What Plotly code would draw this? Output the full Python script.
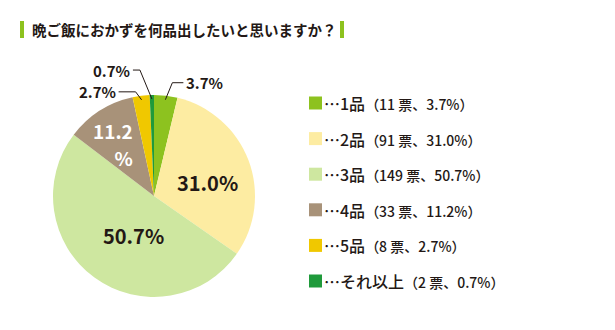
import math
import plotly.graph_objects as go

# Survey answers: how many dishes people want to serve at dinner
categories = ["1品", "2品", "3品", "4品", "5品", "それ以上"]
votes = [11, 91, 149, 33, 8, 2]
colors = ["#8dc21f", "#fdeca2", "#cee7a0", "#a89279", "#f0c800", "#1f9a3b"]
title_text = "晩ご飯におかずを何品出したいと思いますか？"

W, H = 615, 330
CX, CY, R = 154, 196, 101          # pie centre / radius in pixels
TEXT = "#231815"
FONT = "Noto Sans CJK JP"

total = sum(votes)
pcts = [f"{100 * v / total:.1f}%" for v in votes]


def px(x):
    return x / W


def py(y):
    return 1 - y / H


# mid angle of each slice, measured clockwise from 12 o'clock
mids = []
acc = 0
for v in votes:
    mids.append((acc + v / 2) / total * 360)
    acc += v


def polar(angle_deg, frac):
    a = math.radians(angle_deg)
    return CX + frac * R * math.sin(a), CY - frac * R * math.cos(a)


fig = go.Figure(
    go.Pie(
        values=votes,
        labels=categories,
        marker=dict(colors=colors, line=dict(width=0)),
        sort=False,
        direction="clockwise",
        rotation=0,
        textinfo="none",
        hoverinfo="skip",
        showlegend=False,
        domain=dict(x=[px(CX - R), px(CX + R)], y=[py(CY + R), py(CY - R)]),
    )
)

shapes = []
annotations = []


def label(text, x, y, size, color=TEXT, weight=700, xanchor="center", align="center"):
    annotations.append(dict(text=text, xref="paper", yref="paper", x=px(x), y=py(y),
                            xanchor=xanchor, yanchor="middle", showarrow=False, align=align,
                            font=dict(family=FONT, size=size, color=color, weight=weight)))


# title with green bars either side
for bx in (20, 340):
    shapes.append(dict(type="rect", xref="paper", yref="paper", x0=px(bx), x1=px(bx + 4),
                       y0=py(38), y1=py(21), fillcolor="#8dc21f", line=dict(width=0)))
label(title_text, 30, 29.5, 14.5, weight=700, xanchor="left")

# percentage labels inside the larger slices
inside = {
    1: dict(frac=0.55, dang=7),
    2: dict(frac=0.44, dang=-9),
}
for i, st in inside.items():
    x, y = polar(mids[i] + st["dang"], st["frac"])
    label(pcts[i], x, y, 20)

# the 4品 label wraps onto two lines: the base size sets the line step,
# the spans set the glyph size
x, y = polar(mids[3] - 2.5, 0.64)
big = "<span style='font-size:19px'>{}</span>"
label(big.format(pcts[3][:-1]) + "<br>" + big.format("%"), x - 4, y + 1, 21,
      color="#ffffff", align="right")

# small slices: label outside with an elbow leader line
outside = {
    0: dict(elbow=(7, -17), run=11),
    4: dict(elbow=(-6, -8), run=-17),
    5: dict(elbow=(-12, -29), run=-7),
}
for i, st in outside.items():
    x0, y0 = polar(mids[i], 0.96)
    x1, y1 = x0 + st["elbow"][0], y0 + st["elbow"][1]
    x2 = x1 + st["run"]
    shapes.append(dict(type="path", xref="paper", yref="paper",
                       path=f"M {px(x0)} {py(y0)} L {px(x1)} {py(y1)} L {px(x2)} {py(y1)}",
                       line=dict(color=TEXT, width=1)))
    label(pcts[i], x2 + (1 if st["run"] > 0 else -1), y1, 15,
          xanchor="left" if st["run"] > 0 else "right")

# legend built from the same lists
LX, LY, STEP, SQ = 309, 103, 35.6, 13
for i, (cat, v, p, c) in enumerate(zip(categories, votes, pcts, colors)):
    yc = LY + i * STEP
    shapes.append(dict(type="rect", xref="paper", yref="paper", x0=px(LX), x1=px(LX + SQ),
                       y0=py(yc + SQ / 2), y1=py(yc - SQ / 2), fillcolor=c, line=dict(width=0)))
    text = f"…{cat}<span style='font-size:14px'>（{v} 票、{p}）</span>"
    label(text, LX + SQ, yc, 16, weight=500, xanchor="left")

fig.update_layout(
    width=W, height=H,
    margin=dict(l=0, r=0, t=0, b=0),
    paper_bgcolor="#ffffff",
    plot_bgcolor="#ffffff",
    shapes=shapes,
    annotations=annotations,
)

fig.write_html("out.html")
